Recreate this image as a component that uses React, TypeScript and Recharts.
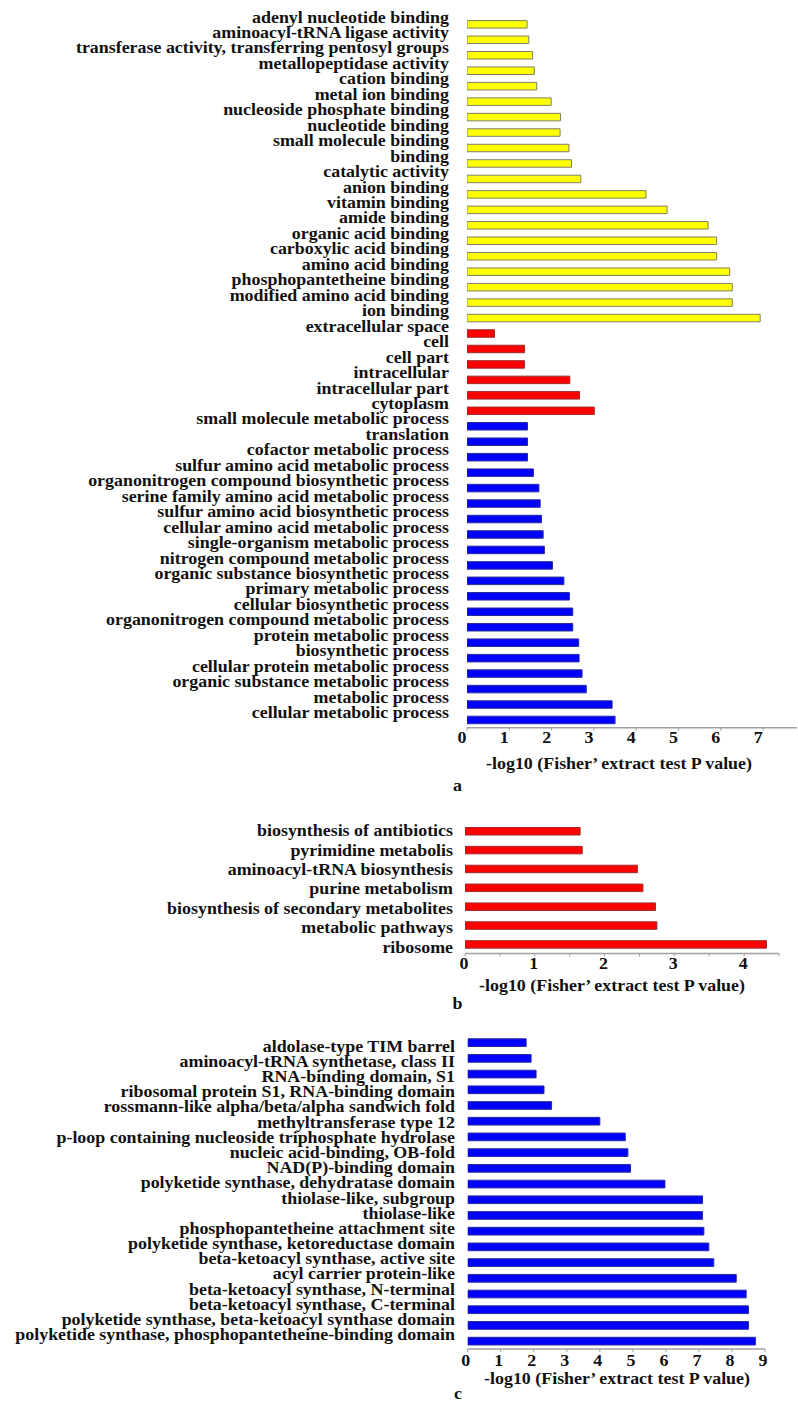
import React from "react";
import { BarChart, Bar, XAxis, YAxis, Cell } from "recharts";

// GO molecular function (yellow), cellular component (red), biological process (blue)
const mfTerms = [
  "adenyl nucleotide binding",
  "aminoacyl-tRNA ligase activity",
  "transferase activity, transferring pentosyl groups",
  "metallopeptidase activity",
  "cation binding",
  "metal ion binding",
  "nucleoside phosphate binding",
  "nucleotide binding",
  "small molecule binding",
  "binding",
  "catalytic activity",
  "anion binding",
  "vitamin binding",
  "amide binding",
  "organic acid binding",
  "carboxylic acid binding",
  "amino acid binding",
  "phosphopantetheine binding",
  "modified amino acid binding",
  "ion binding",
];
const mfValues = [1.42, 1.46, 1.55, 1.59, 1.65, 1.99, 2.21, 2.2, 2.41, 2.47, 2.69, 4.23, 4.73, 5.7, 5.9, 5.9, 6.21, 6.27, 6.27, 6.93];

const ccTerms = ["extracellular space", "cell", "cell part", "intracellular", "intracellular part", "cytoplasm"];
const ccValues = [0.65, 1.36, 1.36, 2.43, 2.66, 3.01];

const bpTerms = [
  "small molecule metabolic process",
  "translation",
  "cofactor metabolic process",
  "sulfur amino acid metabolic process",
  "organonitrogen compound biosynthetic process",
  "serine family amino acid metabolic process",
  "sulfur amino acid biosynthetic process",
  "cellular amino acid metabolic process",
  "single-organism metabolic process",
  "nitrogen compound metabolic process",
  "organic substance biosynthetic process",
  "primary metabolic process",
  "cellular biosynthetic process",
  "organonitrogen compound metabolic process",
  "protein metabolic process",
  "biosynthetic process",
  "cellular protein metabolic process",
  "organic substance metabolic process",
  "metabolic process",
  "cellular metabolic process",
];
const bpValues = [1.43, 1.43, 1.43, 1.57, 1.7, 1.73, 1.76, 1.8, 1.83, 2.02, 2.29, 2.42, 2.5, 2.5, 2.64, 2.65, 2.72, 2.82, 3.43, 3.5];

// KEGG pathways
const keggTerms = [
  "biosynthesis of antibiotics",
  "pyrimidine metabolis",
  "aminoacyl-tRNA biosynthesis",
  "purine metabolism",
  "biosynthesis of secondary metabolites",
  "metabolic pathways",
  "ribosome",
];
const keggValues = [1.65, 1.68, 2.47, 2.55, 2.73, 2.75, 4.32];

// protein domains
const domainTerms = [
  "aldolase-type TIM barrel",
  "aminoacyl-tRNA synthetase, class II",
  "RNA-binding domain, S1",
  "ribosomal protein S1, RNA-binding domain",
  "rossmann-like alpha/beta/alpha sandwich fold",
  "methyltransferase type 12",
  "p-loop containing nucleoside triphosphate hydrolase",
  "nucleic acid-binding, OB-fold",
  "NAD(P)-binding domain",
  "polyketide synthase, dehydratase domain",
  "thiolase-like, subgroup",
  "thiolase-like",
  "phosphopantetheine attachment site",
  "polyketide synthase, ketoreductase domain",
  "beta-ketoacyl synthase, active site",
  "acyl carrier protein-like",
  "beta-ketoacyl synthase, N-terminal",
  "beta-ketoacyl synthase, C-terminal",
  "polyketide synthase, beta-ketoacyl synthase domain",
  "polyketide synthase, phosphopantetheine-binding domain",
];
const domainValues = [1.77, 1.92, 2.07, 2.31, 2.54, 4.0, 4.77, 4.85, 4.93, 5.97, 7.11, 7.11, 7.15, 7.3, 7.45, 8.13, 8.43, 8.5, 8.5, 8.71];

const ticksA = [0, 1, 2, 3, 4, 5, 6, 7];
const ticksB = [0, 0.5, 1, 1.5, 2, 2.5, 3, 3.5, 4, 4.5];
const ticksC = [0, 1, 2, 3, 4, 5, 6, 7, 8, 9];

const AXIS_TITLE = "-log10 (Fisher\u2019 extract test P value)";

const FONT = "'Liberation Serif', 'Times New Roman', Times, serif";
const SX = 1.12;
const AXIS_COLOR = "#a0a0a0";

const COLORS: Record<string, { fill: string; stroke: string }> = {
  mf: { fill: "#ffff00", stroke: "#7f7f60" },
  cc: { fill: "#ff0000", stroke: "#a02a2a" },
  bp: { fill: "#0000ff", stroke: "#2a2aa0" },
};

type Row = { name: string; value: number; group: string };

const rows = (names: string[], values: number[], group: string): Row[] =>
  names.map((name, i) => ({ name, value: values[i], group }));

const dataA = [...rows(mfTerms, mfValues, "mf"), ...rows(ccTerms, ccValues, "cc"), ...rows(bpTerms, bpValues, "bp")];
const dataB = rows(keggTerms, keggValues, "cc");
const dataC = rows(domainTerms, domainValues, "bp");

function SerifText({ x, y, anchor = "end", children }: any) {
  return (
    <text
      transform={`translate(${x},${y}) scale(${SX},1)`}
      textAnchor={anchor}
      style={{ fontFamily: FONT, fontWeight: 700, fontSize: 16 }}
      fill="#111"
    >
      {children}
    </text>
  );
}

interface PanelProps {
  data: Row[];
  top: number;
  height: number;
  marginTop: number;
  plotLeft: number;
  marginRight: number;
  max: number;
  ticks: number[];
  barSize: number;
  labelGap: number;
  labelShift: (i: number) => number;
  tickDx: number;
  tickDy: number;
}

function Panel(p: PanelProps) {
  return (
    <div style={{ position: "absolute", left: 0, top: p.top }}>
      <BarChart
        width={798}
        height={p.height}
        data={p.data}
        layout="vertical"
        margin={{ top: p.marginTop, right: p.marginRight, bottom: 0, left: 0 }}
      >
        <XAxis
          type="number"
          domain={[0, p.max]}
          ticks={p.ticks}
          interval={0}
          allowDataOverflow
          height={30}
          axisLine={{ stroke: AXIS_COLOR, strokeWidth: 1.5 }}
          tickLine={{ stroke: AXIS_COLOR }}
          tickSize={3}
          tickMargin={0}
          tick={(t: any) =>
            Number.isInteger(t.payload.value) ? (
              <SerifText x={t.x + p.tickDx} y={t.y + p.tickDy} anchor="middle">
                {t.payload.value}
              </SerifText>
            ) : (
              <g />
            )
          }
        />
        <YAxis
          type="category"
          dataKey="name"
          width={p.plotLeft}
          interval={0}
          axisLine={false}
          tickLine={false}
          tickSize={0}
          tickMargin={0}
          tick={(t: any) => (
            <SerifText x={t.x - p.labelGap} y={t.y + 3.7 + p.labelShift(t.index ?? 0)}>
              {t.payload.value}
            </SerifText>
          )}
        />
        <Bar dataKey="value" barSize={p.barSize} isAnimationActive={false}>
          {p.data.map((r, i) => (
            <Cell key={i} fill={COLORS[r.group].fill} stroke={COLORS[r.group].stroke} strokeWidth={1} />
          ))}
        </Bar>
      </BarChart>
    </div>
  );
}

export default function App() {
  return (
    <div style={{ position: "absolute", left: 0, top: 0, width: 798, height: 1403, background: "#fff" }}>
      <Panel
        data={dataA}
        top={0}
        height={16.6 + 711.1 + 30}
        marginTop={16.6}
        plotLeft={467}
        marginRight={1}
        max={7.8}
        ticks={ticksA}
        barSize={7.5}
        labelGap={18}
        labelShift={() => -5.5}
        tickDx={-5}
        tickDy={12.6}
      />
      <Panel
        data={dataB}
        top={810}
        height={11.5 + 132 + 30}
        marginTop={11.5}
        plotLeft={465}
        marginRight={19}
        max={4.5}
        ticks={ticksB}
        barSize={7.5}
        labelGap={12}
        labelShift={(i) => 1.5 + (3.5 * i) / 6}
        tickDx={-1}
        tickDy={12.3}
      />
      <Panel
        data={dataC}
        top={1020}
        height={14.8 + 314.2 + 30}
        marginTop={14.8}
        plotLeft={467.7}
        marginRight={33}
        max={9}
        ticks={ticksC}
        barSize={7.7}
        labelGap={12.7}
        labelShift={(i) => 5.3 - (9.9 * i) / 19}
        tickDx={-2}
        tickDy={13.7}
      />
      <svg width={798} height={1403} style={{ position: "absolute", left: 0, top: 0, pointerEvents: "none" }}>
        <SerifText x={619} y={769} anchor="middle">{AXIS_TITLE}</SerifText>
        <SerifText x={457.5} y={790.5} anchor="middle">a</SerifText>
        <SerifText x={612} y={990.5} anchor="middle">{AXIS_TITLE}</SerifText>
        <SerifText x={457.5} y={1009} anchor="middle">b</SerifText>
        <SerifText x={617} y={1383.5} anchor="middle">{AXIS_TITLE}</SerifText>
        <SerifText x={458} y={1399} anchor="middle">c</SerifText>
      </svg>
    </div>
  );
}
